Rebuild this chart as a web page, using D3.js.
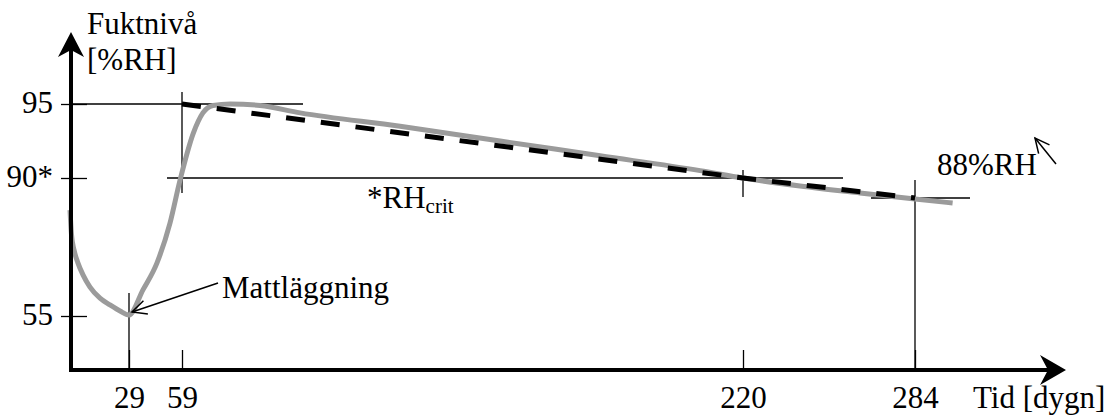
<!DOCTYPE html>
<html>
<head>
<meta charset="utf-8">
<script src="https://cdn.jsdelivr.net/npm/d3@7"></script>
<style>
  html, body { margin: 0; padding: 0; background: #fff; }
  svg { display: block; }
  text { font-family: "Times New Roman", "Liberation Serif", serif; fill: #000; }
</style>
</head>
<body>
<svg id="chart" width="1118" height="417"></svg>
<script>
// ---- data ----
const xTickValues = [29, 59, 220, 284];
const xTickLabels = ["29", "59", "220", "284"];
const yTickValues = [95, 90, 55];
const yTickLabels = ["95", "90*", "55"];

// measured moisture curve (gray)
const curveDays = [0, 0.74, 1.97, 3.93, 6.39, 9.83, 14.75, 19.66, 24.6, 29, 36.9, 44.8, 52.2, 57.9, 62.2, 65.0, 67.9, 72.8, 81.4, 92.9, 121.6, 150.3, 179.0, 207.7, 220, 241.2, 263.5, 284, 298];
const curveRH   = [84.6, 77.7, 73.5, 69.8, 66.5, 63.1, 60.0, 58.1, 56.4, 55.3, 62.3, 69.8, 81.0, 89.8, 93.0, 94.4, 94.9, 95.0, 94.9, 94.4, 93.5, 92.5, 91.5, 90.5, 90.0, 89.2, 88.5, 87.7, 86.6];

// simplified drying line (dashed)
const dryDays = [59, 220, 284];
const dryRH   = [95, 90, 88];

const yAxisTitle = ["Fuktnivå", "[%RH]"];
const xAxisTitle = "Tid [dygn]";
const noteMatt = "Mattläggning";
const noteCrit = "*RH";
const noteCritSub = "crit";
const note88 = "88%RH";

// ---- scales (schematic, piecewise) ----
const x = d3.scaleLinear().domain([0, 29, 59, 220, 284]).range([70, 129, 182, 743, 915]);
const y = d3.scaleLinear().domain([55, 88, 90, 95]).range([316, 198, 178, 104]);

const svg = d3.select("#chart");
const FS = 31;
const ax0 = 71, ay0 = 370; // axis origin

// ---- guide lines (thin) ----
const thin = svg.append("g").attr("stroke", "#000").attr("stroke-width", 1.3).attr("fill", "none");
function hline(x1, x2, yy) { thin.append("line").attr("x1", x1).attr("x2", x2).attr("y1", yy).attr("y2", yy); }
function vline(xx, y1, y2) { thin.append("line").attr("x1", xx).attr("x2", xx).attr("y1", y1).attr("y2", y2); }

hline(ax0, 303, y(95));           // 95 line
hline(167, 843, y(90));           // RHcrit line
hline(871, 970, y(88));           // 88 line
vline(x(59), 92, 193);            // 59 vertical at top
vline(x(29), 293, ay0);           // 29 vertical (Mattläggning)
vline(x(284), 180, ay0);          // 284 vertical
vline(x(220), y(90) - 8, y(90) + 19); // 220 tick on crit line

// ---- data lines ----
const grayLine = d3.line().x((d, i) => x(curveDays[i])).y((d, i) => y(curveRH[i])).curve(d3.curveMonotoneX);
svg.append("path")
  .attr("d", grayLine(curveDays))
  .attr("fill", "none")
  .attr("stroke", "#9b9b9b")
  .attr("stroke-width", 5);

const dashLine = d3.line().x((d, i) => x(dryDays[i])).y((d, i) => y(dryRH[i]));
svg.append("path")
  .attr("d", dashLine(dryDays))
  .attr("fill", "none")
  .attr("stroke", "#000")
  .attr("stroke-width", 5)
  .attr("stroke-dasharray", "19,16");

// ---- axes ----
const xAxis = d3.axisBottom(x).tickValues(xTickValues).tickFormat((d, i) => xTickLabels[i]).tickSize(-20).tickPadding(16);
const gx = svg.append("g").attr("transform", `translate(0,${ay0})`).call(xAxis);
gx.select(".domain").remove();
gx.selectAll(".tick line").attr("stroke", "#000").attr("stroke-width", 1.3).attr("y1", 2);
gx.selectAll(".tick text").attr("font-size", FS).attr("font-family", null).attr("fill", "#000");

const yAxis = d3.axisLeft(y).tickValues(yTickValues).tickFormat((d, i) => yTickLabels[i]).tickSize(10).tickPadding(8);
const gy = svg.append("g").attr("transform", `translate(${ax0},0)`).call(yAxis);
gy.select(".domain").remove();
gy.selectAll(".tick line").attr("stroke", "#000").attr("stroke-width", 1.3).attr("x1", 16);
gy.selectAll(".tick text").attr("font-size", FS).attr("font-family", null).attr("fill", "#000").attr("dy", "0.26em");

// thick axis lines
svg.append("line").attr("x1", ax0).attr("x2", ax0).attr("y1", ay0 + 2).attr("y2", 50).attr("stroke", "#000").attr("stroke-width", 4);
svg.append("line").attr("x1", ax0 - 2).attr("x2", 1050).attr("y1", ay0).attr("y2", ay0).attr("stroke", "#000").attr("stroke-width", 4);
// arrowheads
svg.append("path").attr("d", `M${ax0},32 L${ax0 - 13},57 L${ax0},50 L${ax0 + 13},57 Z`).attr("fill", "#000");
svg.append("path").attr("d", `M1066,${ay0} L1040,${ay0 - 15} L1048,${ay0} L1040,${ay0 + 15} Z`).attr("fill", "#000");

// ---- annotation arrows ----
function arrow(x1, y1, x2, y2) {
  const g = svg.append("g").attr("stroke", "#000").attr("stroke-width", 1.5).attr("fill", "none");
  g.append("line").attr("x1", x1).attr("y1", y1).attr("x2", x2).attr("y2", y2);
  const a = Math.atan2(y1 - y2, x1 - x2), L = 16, w = 0.45;
  g.append("path").attr("d",
    `M${x2 + L * Math.cos(a + w)},${y2 + L * Math.sin(a + w)} L${x2},${y2} L${x2 + L * Math.cos(a - w)},${y2 + L * Math.sin(a - w)}`);
}
arrow(218, 283, x(29) + 3, y(55) - 4);
arrow(1056, 164, 1035, 138);

// ---- texts ----
svg.append("text").attr("x", 87).attr("y", 34).attr("font-size", FS).text(yAxisTitle[0]);
svg.append("text").attr("x", 87).attr("y", 70).attr("font-size", FS).text(yAxisTitle[1]);
svg.append("text").attr("x", 973).attr("y", 408).attr("font-size", FS).text(xAxisTitle);
svg.append("text").attr("x", 222).attr("y", 298).attr("font-size", FS).text(noteMatt);
const crit = svg.append("text").attr("x", 367).attr("y", 208).attr("font-size", FS);
crit.append("tspan").text(noteCrit);
crit.append("tspan").attr("font-size", 21).attr("dy", 5).text(noteCritSub);
svg.append("text").attr("x", 937).attr("y", 175).attr("font-size", FS).text(note88);
</script>
</body>
</html>
